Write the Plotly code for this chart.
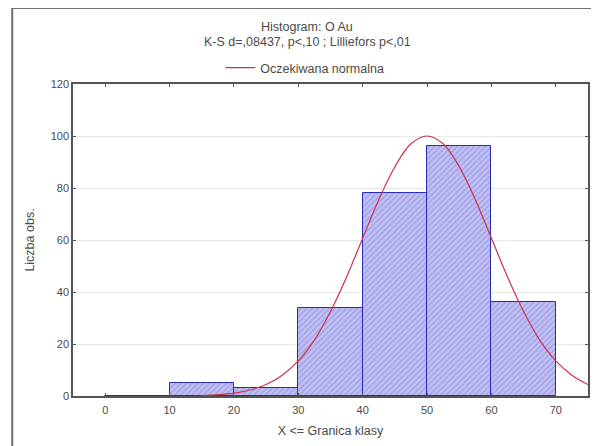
import plotly.graph_objects as go

# Histogram data (bin left edges, counts)
bin_left = [0, 10, 20, 30, 40, 50, 60]
counts = [0, 5, 3, 34, 78, 96, 36]
bin_width = 10

# Expected normal curve
curve_x = [15, 17.5, 20, 22.5, 25, 27.5, 30, 32.5, 35, 37.5, 40, 42.5, 45, 47.5, 50,
           52.5, 55, 57.5, 60, 62.5, 65, 67.5, 70, 72.5, 75]
curve_y = [0.2, 0.5, 1.1, 2.3, 4.4, 8.0, 13.5, 21.5, 32.5, 45.8, 60.7, 75.5, 88.2, 97.0, 100,
           97.0, 88.2, 75.5, 60.7, 45.8, 32.5, 21.5, 13.5, 8.0, 4.4]

x_ticks = [0, 10, 20, 30, 40, 50, 60, 70]
y_ticks = [0, 20, 40, 60, 80, 100, 120]

title_1 = "Histogram: O Au"
title_2 = "K-S d=,08437, p<,10 ; Lilliefors p<,01"
legend_name = "Oczekiwana normalna"
x_title = "X <= Granica klasy"
y_title = "Liczba obs."

FONT = "Liberation Sans, Arial, sans-serif"
TXT = "#4a4a4a"
TS = 12.5

fig = go.Figure()
fig.add_trace(go.Bar(
    x=[b + bin_width / 2 for b in bin_left], y=counts, width=bin_width,
    marker=dict(color="#bcbcf4",
                line=dict(color="#2a2ab8", width=1),
                pattern=dict(shape="/", fgcolor="#7878c4", bgcolor="#c0c0f6", size=4, solidity=0.3)),
    showlegend=False,
))
fig.add_trace(go.Scatter(
    x=curve_x, y=curve_y, mode="lines", name=legend_name,
    line=dict(color="#d0304a", width=1.2, shape="spline"),
))

fig.update_layout(
    width=591, height=438,
    margin=dict(l=65, r=9, t=76, b=50),
    paper_bgcolor="white", plot_bgcolor="white",
    font=dict(family=FONT, size=11, color=TXT),
    bargap=0,
    showlegend=True,
    legend=dict(orientation="h", x=0.45, xanchor="center", y=1.051, yanchor="middle",
                font=dict(size=TS, color=TXT), bgcolor="rgba(0,0,0,0)", itemwidth=30),
    xaxis=dict(range=[-5, 75], tickvals=x_ticks, showgrid=False, zeroline=False,
               showline=True, linecolor="#555555", linewidth=1.5, mirror="ticks",
               ticks="inside", ticklen=3, tickcolor="#555555",
               tickfont=dict(size=11, color=TXT), ticklabelstandoff=3,
               title=dict(text=x_title, font=dict(size=TS, color=TXT), standoff=11)),
    yaxis=dict(range=[0, 120], tickvals=y_ticks, showgrid=True, gridcolor="#e8e8e8",
               zeroline=False, showline=True, linecolor="#555555", linewidth=1.5,
               mirror="ticks", ticks="inside", ticklen=3, tickcolor="#555555",
               tickfont=dict(size=11, color=TXT),
               title=dict(text=y_title, font=dict(size=TS, color=TXT), standoff=13)),
    annotations=[
        dict(text=title_1, xref="paper", yref="paper", x=0.455, y=1.183, showarrow=False,
             xanchor="center", yanchor="middle", font=dict(size=TS, color=TXT)),
        dict(text=title_2, xref="paper", yref="paper", x=0.455, y=1.135, showarrow=False,
             xanchor="center", yanchor="middle", font=dict(size=TS, color=TXT)),
    ],
    shapes=[
        dict(type="rect", xref="paper", yref="paper", x0=-0.118, x1=1.0135, y0=-0.17, y1=1.2436,
             line=dict(color="#707070", width=2), layer="below"),
    ],
)

fig.write_html("out.html")
